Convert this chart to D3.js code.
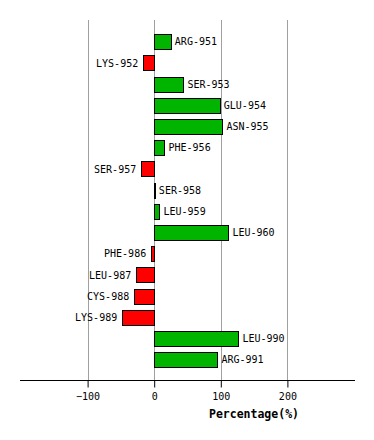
<!DOCTYPE html>
<html><head><meta charset="utf-8">
<script src="https://cdn.jsdelivr.net/npm/d3@7"></script>
<style>body{margin:0;background:#fff}svg{display:block}</style>
</head><body>
<script>
const categories = ["ARG-951","LYS-952","SER-953","GLU-954","ASN-955","PHE-956","SER-957","SER-958","LEU-959","LEU-960","PHE-986","LEU-987","CYS-988","LYS-989","LEU-990","ARG-991"];
const values = [25,-16.5,44,98.5,102.5,15.5,-19.5,1,8,111.5,-4.5,-27,-30,-48,126.5,95];
const tickValues = [-100,0,100,200];
const axisTitle = "Percentage(%)";

const W=374,H=440;
const svg=d3.select("body").append("svg").attr("width",W).attr("height",H);
const x=d3.scaleLinear().domain([-200,300]).range([21,354]);
const y=d3.scaleBand().domain(categories).range([31.2,370.4]).paddingInner(0.29).paddingOuter(0.145);
const font="'DejaVu Sans Mono', monospace";

// grid
svg.append("g").selectAll("line").data(tickValues).join("line")
  .attr("x1",d=>Math.round(x(d))+0.5).attr("x2",d=>Math.round(x(d))+0.5)
  .attr("y1",20).attr("y2",380).attr("stroke","#a0a0a0").attr("stroke-width",1);

// bars
svg.append("g").selectAll("rect").data(values).join("rect")
  .attr("x",(d)=>Math.round(x(Math.min(0,d)))+0.5)
  .attr("y",(d,i)=>Math.round(y(categories[i]))+0.5)
  .attr("width",d=>Math.max(0,Math.round(Math.abs(x(d)-x(0)))))
  .attr("height",Math.round(y.bandwidth()))
  .attr("fill",d=>d>=0?"#00b400":"#ff0000")
  .attr("stroke","#000").attr("stroke-width",1);

// labels
svg.append("g").selectAll("text").data(values).join("text")
  .attr("x",d=>d>=0?x(d)+4:x(d)-5)
  .attr("y",(d,i)=>y(categories[i])+y.bandwidth()/2)
  .attr("dy","0.35em")
  .attr("text-anchor",d=>d>=0?"start":"end")
  .attr("font-family",font).attr("font-size",10)
  .text((d,i)=>categories[i]);

// axis
const ax=svg.append("g").attr("transform","translate(0,380.5)")
  .call(d3.axisBottom(x).tickValues(tickValues).tickSize(7).tickPadding(5).tickFormat(d3.format("d")));
ax.select(".domain").attr("d","M20,0H355").attr("stroke","#000");
ax.selectAll(".tick line").attr("stroke","#000");
ax.selectAll(".tick text").attr("font-family",font).attr("font-size",10).attr("fill","#000");

svg.append("text").attr("x",254).attr("y",418)
  .attr("text-anchor","middle").attr("font-family",font).attr("font-weight","bold").attr("font-size",11.5)
  .text(axisTitle);
</script>
</body></html>
